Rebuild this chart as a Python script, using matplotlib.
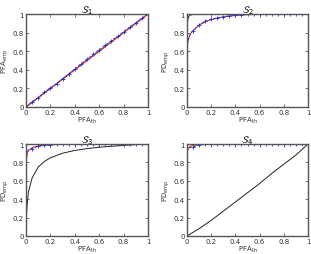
import numpy as np
import matplotlib
matplotlib.use("Agg")
import matplotlib.pyplot as plt
from matplotlib.ticker import FuncFormatter

# marker grid (PFA_th)
xm = [0, 0.05, 0.1, 0.15, 0.2, 0.25, 0.3, 0.35, 0.4, 0.45, 0.5, 0.55, 0.6, 0.65, 0.7, 0.75, 0.8, 0.85, 0.9, 0.95, 1.0]

# Panel S1
s1_black_x = [0, 0.2, 0.4, 0.6, 0.8, 1.0]
s1_black_y = [0, 0.2, 0.4, 0.6, 0.8, 1.0]
s1_red_x = [0, 0.25, 0.5, 0.75, 1.0]
s1_red_y = [0, 0.25, 0.5, 0.75, 1.0]
s1_blue_x = xm
s1_blue_y = [0, 0.055, 0.1, 0.16, 0.205, 0.25, 0.305, 0.355, 0.41, 0.465, 0.515, 0.565, 0.615, 0.665, 0.715, 0.76, 0.81, 0.86, 0.905, 0.955, 1.0]
s1_mark_y = s1_blue_y

# Panel S2
s2_black_x = [0, 0.003, 0.008, 0.015, 0.03, 0.06, 0.1, 1.0]
s2_black_y = [0, 0.9, 0.95, 0.975, 0.99, 0.997, 1.0, 1.0]
s2_red_x = [0, 0.001, 0.005, 0.01, 0.02, 0.03, 0.05, 0.1, 0.15, 0.2, 0.25, 0.3, 0.35, 0.4, 0.5, 0.6, 1.0]
s2_red_y = [0, 0.6, 0.68, 0.72, 0.76, 0.79, 0.82, 0.88, 0.915, 0.94, 0.955, 0.968, 0.977, 0.984, 0.993, 0.998, 1.0]
s2_blue_x = [0, 0.001, 0.005, 0.01, 0.02, 0.03, 0.05, 0.1, 0.15, 0.2, 0.25, 0.3, 0.35, 0.4, 0.5, 0.6, 1.0]
s2_blue_y = [0, 0.6, 0.68, 0.72, 0.76, 0.79, 0.82, 0.885, 0.92, 0.945, 0.96, 0.97, 0.98, 0.985, 0.995, 0.999, 1.0]
s2_mark_y = [0, 0.82, 0.885, 0.92, 0.945, 0.96, 0.97, 0.98, 0.985, 0.99, 0.995, 0.997, 0.998, 0.999, 1, 1, 1, 1, 1, 1, 1]

# Panel S3
s3_black_x = [0, 0.005, 0.01, 0.02, 0.05, 0.1, 0.15, 0.2, 0.3, 0.4, 0.5, 0.6, 0.7, 0.8, 0.9, 1.0]
s3_black_y = [0, 0.25, 0.35, 0.48, 0.63, 0.75, 0.81, 0.85, 0.9, 0.93, 0.95, 0.965, 0.975, 0.985, 0.993, 1.0]
s3_red_x = [0, 0.001, 0.005, 0.01, 0.02, 0.05, 0.1, 0.2, 0.3, 1.0]
s3_red_y = [0, 0.75, 0.85, 0.9, 0.93, 0.96, 0.98, 0.993, 0.998, 1.0]
s3_blue_x = [0, 0.001, 0.005, 0.01, 0.02, 0.05, 0.1, 0.2, 0.3, 1.0]
s3_blue_y = [0, 0.75, 0.86, 0.91, 0.935, 0.95, 0.975, 0.99, 0.998, 1.0]
s3_mark_y = [0, 0.95, 0.975, 0.985, 0.99, 0.995, 0.997, 0.998, 1, 1, 1, 1, 1, 1, 1, 1, 1, 1, 1, 1, 1]

# Panel S4
s4_black_x = [0, 0.05, 0.1, 0.2, 0.3, 0.4, 0.5, 0.6, 0.7, 0.8, 0.9, 1.0]
s4_black_y = [0, 0.04, 0.08, 0.17, 0.27, 0.37, 0.47, 0.57, 0.68, 0.78, 0.88, 1.0]
s4_red_x = [0, 0.001, 0.005, 0.01, 0.02, 0.05, 0.1, 0.2, 1.0]
s4_red_y = [0, 0.88, 0.93, 0.95, 0.97, 0.985, 0.995, 1.0, 1.0]
s4_blue_x = [0, 0.001, 0.005, 0.01, 0.02, 0.05, 0.1, 0.15, 1.0]
s4_blue_y = [0, 0.88, 0.93, 0.95, 0.96, 0.965, 0.99, 0.997, 1.0]
s4_mark_y = [0, 0.965, 0.99, 0.997, 1, 1, 1, 1, 1, 1, 1, 1, 1, 1, 1, 1, 1, 1, 1, 1, 1]

titles = [r"$\mathcal{S}_1$", r"$\mathcal{S}_2$", r"$\mathcal{S}_3$", r"$\mathcal{S}_4$"]
ylabels = [r"PFA$_{\rm emp}$", r"PD$_{\rm emp}$", r"PD$_{\rm emp}$", r"PD$_{\rm emp}$"]
xlabel = r"PFA$_{\rm th}$"
ticks = [0, 0.2, 0.4, 0.6, 0.8, 1.0]

panels = [
    (s1_black_x, s1_black_y, s1_red_x, s1_red_y, s1_blue_x, s1_blue_y, s1_mark_y),
    (s2_black_x, s2_black_y, s2_red_x, s2_red_y, s2_blue_x, s2_blue_y, s2_mark_y),
    (s3_black_x, s3_black_y, s3_red_x, s3_red_y, s3_blue_x, s3_blue_y, s3_mark_y),
    (s4_black_x, s4_black_y, s4_red_x, s4_red_y, s4_blue_x, s4_blue_y, s4_mark_y),
]

W, H = 311, 255
fig = plt.figure(figsize=(W / 100, H / 100), dpi=100)
boxes = [(26, 15, 148, 108), (187, 15, 308, 108), (26, 145, 148, 237), (187, 145, 308, 237)]

fmt = FuncFormatter(lambda v, p: ("%g" % round(v, 2)))

for i, (box, data) in enumerate(zip(boxes, panels)):
    l, t, r, b = box
    ax = fig.add_axes([l / W, 1 - b / H, (r - l) / W, (b - t) / H])
    bx, by, rx, ry, blx, bly, my = data
    ax.plot(bx, by, color="#222222", lw=0.7)
    ax.plot(rx, ry, color="#ee3333", lw=0.8)
    ax.plot(blx, bly, color="#2233cc", lw=0.6, ls="--")
    ax.plot(xm, my, color="#2233cc", lw=0, marker="+", ms=3.5, mew=0.6)
    ax.set_xlim(0, 1)
    ax.set_ylim(0, 1)
    ax.set_xticks(ticks)
    ax.set_yticks(ticks)
    ax.xaxis.set_major_formatter(fmt)
    ax.yaxis.set_major_formatter(fmt)
    ax.tick_params(direction="in", length=2, width=0.5, labelsize=5, pad=1.5,
                   top=True, right=True, colors="#444444", labelcolor="#333333")
    for s in ax.spines.values():
        s.set_linewidth(1.0)
        s.set_color("#555555")
    ax.set_title(titles[i], fontsize=7, pad=1)
    ax.set_ylabel(ylabels[i], fontsize=5, labelpad=1, color="#333333")
    ax.set_xlabel(xlabel, fontsize=5, labelpad=0, color="#333333")

fig.savefig("out.png", dpi=100)
